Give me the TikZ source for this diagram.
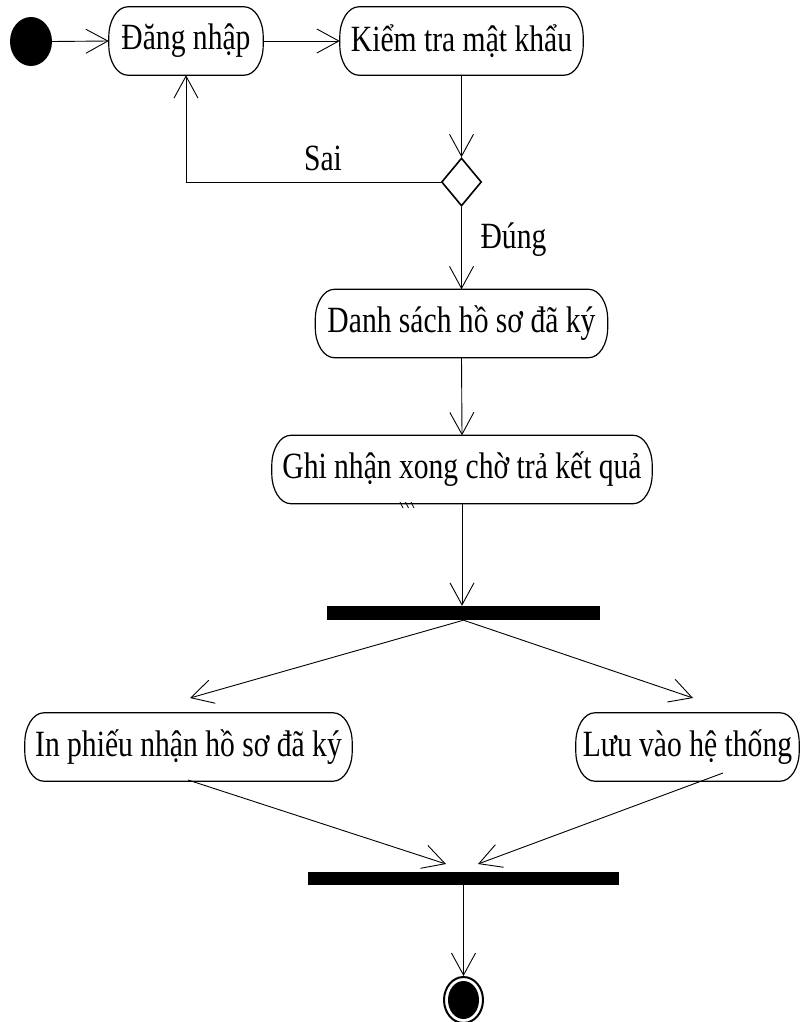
\documentclass[tikz,border=0pt]{standalone}
\usepackage{fontspec}
\setmainfont{Liberation Serif}[FakeStretch=0.8]
\usetikzlibrary{arrows.meta,shapes.geometric}

\begin{document}
\begin{tikzpicture}[x=1pt,y=1pt,
  every node/.style={font=\fontsize{37}{42}\selectfont},
  act/.style={inner sep=0pt, minimum height=68pt},
  outline/.style={line width=1.2pt},
  bar/.style={fill=black, draw=none, inner sep=0pt},
  flow/.style={line width=0.9pt, -{Straight Barb[length=22pt,width=24pt,line width=0.9pt]}}
]
\useasboundingbox (0,0) rectangle (801,-1022);

% start state
\node[ellipse, fill=black, minimum width=42pt, minimum height=49pt, inner sep=0pt] (start) at (31,-41.5) {};

% activities
\node[act, minimum width=154pt] (login) at (186,-41) {Đăng nhập};
\node[act, minimum width=243pt] (check) at (461.5,-41) {Kiểm tra mật khẩu};
\node[diamond, draw, line width=1.6pt, minimum width=40pt, minimum height=48pt, inner sep=0pt] (dec) at (461.5,-182) {};
\node[act, minimum width=292pt] (list) at (461.5,-323.5) {Danh sách hồ sơ đã ký};
\node[act, minimum width=380pt] (rec) at (462,-469.5) {Ghi nhận xong chờ trả kết quả};

% fork bar
\node[bar, minimum width=273pt, minimum height=14pt] (fork) at (463.5,-613) {};

\node[act, minimum width=327pt] (print) at (188.5,-747) {In phiếu nhận hồ sơ đã ký};
\node[act, minimum width=223pt] (save) at (687.5,-747) {Lưu vào hệ thống};

% join bar
\node[bar, minimum width=311pt, minimum height=13pt] (join) at (463.5,-878.5) {};

% end state
\node[ellipse, draw, line width=2pt, minimum width=39pt, minimum height=46pt, inner sep=0pt] (endo) at (463.5,-1000) {};
\node[ellipse, fill=black, minimum width=31pt, minimum height=38pt, inner sep=0pt] (endi) at (463.5,-1000) {};

% activity outlines with elliptical corners
\foreach \n in {login,check,list,rec,print,save}{
  \draw[outline]
    ([xshift=19pt]\n.north west) -- ([xshift=-19pt]\n.north east)
    arc[start angle=90, end angle=0, x radius=19, y radius=30]
    -- ([yshift=30pt]\n.south east)
    arc[start angle=0, end angle=-90, x radius=19, y radius=30]
    -- ([xshift=19pt]\n.south west)
    arc[start angle=270, end angle=180, x radius=19, y radius=30]
    -- ([yshift=-30pt]\n.north west)
    arc[start angle=180, end angle=90, x radius=19, y radius=30]
    -- cycle;
}

% guard labels
\node[anchor=base] (sai) at (323,-170) {Sai};
\node[anchor=base] (dung) at (513.5,-248) {Đúng};

% free ends of the slanted connectors
\coordinate (pin) at (190,-698);
\coordinate (sin) at (693,-698);
\coordinate (pout) at (188,-780);
\coordinate (sout) at (723,-773);
\coordinate (jl) at (446,-864);
\coordinate (jr) at (478,-864);

% connectors
\draw[flow] (start.east) -- (login.west);
\draw[flow] (login.east) -- (check.west);
\draw[flow] (check.south) -- (dec.north);
\draw[flow] (dec.west) -| (login.south);
\draw[flow] (dec.south) -- (list.north);
\draw[flow] (list.south) -- (rec.north);
\draw[flow] (rec.south) -- (rec.south |- fork.north);
\draw[flow] (fork.south) -- (pin);
\draw[flow] (fork.south) -- (sin);
\draw[flow] (pout) -- (jl);
\draw[flow] (sout) -- (jr);
\draw[flow] (join.south) -- (endo.north);

% small marks under the record activity
\draw[line width=0.7pt] (400,-502) -- (403,-508) (405.5,-502) -- (408.5,-508) (411,-502) -- (414,-508);
\end{tikzpicture}
\end{document}
